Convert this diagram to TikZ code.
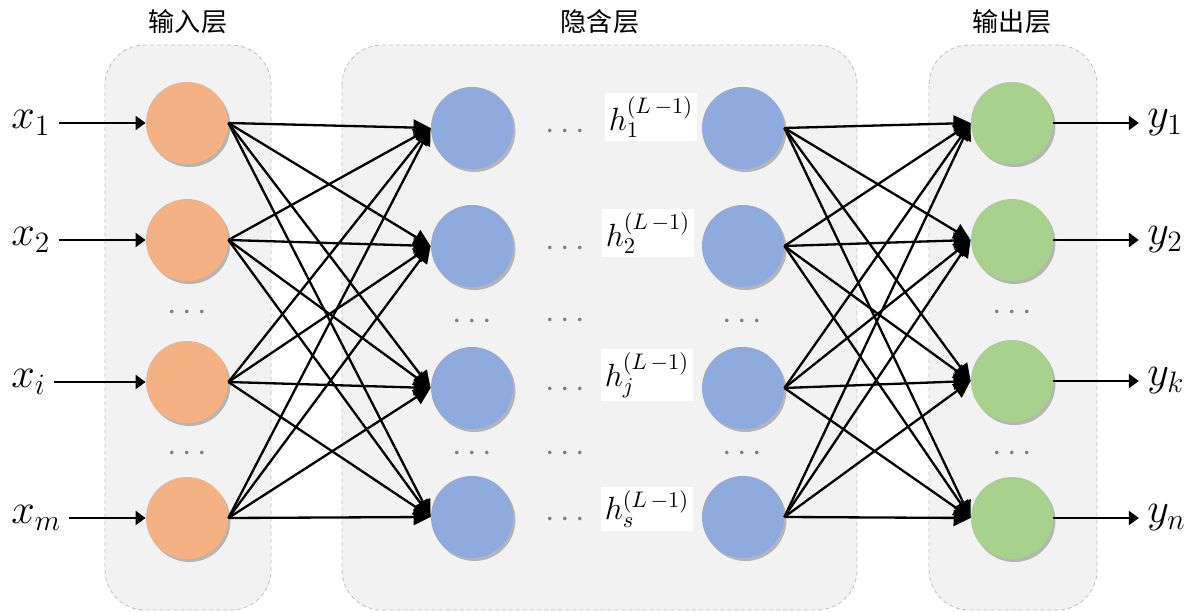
\documentclass[tikz,border=0pt]{standalone}
\usepackage{fix-cm}
\usepackage{fontspec}
\newfontfamily\cjk{Noto Sans CJK SC}
\usetikzlibrary{arrows.meta,shadows}
\definecolor{inOrange}{HTML}{F4B183}
\definecolor{hidBlue}{HTML}{8FAADC}
\definecolor{outGreen}{HTML}{A9D18E}
\definecolor{boxFill}{HTML}{F2F2F2}
\definecolor{boxLine}{HTML}{BFBFBF}
\begin{document}
\begin{tikzpicture}[
    every node/.style={align=center},
    layer box/.style={draw=boxLine, fill=boxFill, line width=0.4pt, dash pattern=on 2pt off 1.5pt, rounded corners=0.7cm},
    neuron/.style={circle, minimum size=1.435cm, inner sep=0pt, drop shadow={shadow xshift=1.2pt, shadow yshift=-1.5pt, fill=black, opacity=0.25}},
    in neuron/.style={neuron, fill=inOrange},
    hid neuron/.style={neuron, fill=hidBlue},
    out neuron/.style={neuron, fill=outGreen},
    layer title/.style={font=\cjk\fontsize{13}{15}\selectfont},
    var label/.style={anchor=west, inner sep=4pt, font=\fontsize{21}{25}\selectfont},
    hid label/.style={fill=white, inner sep=2pt, font=\fontsize{16}{19}\selectfont},
    gray dots/.style={inner sep=0pt, text=black!50, font=\fontsize{17}{20}\selectfont},
    weight arrow/.style={draw, line width=1.15pt, -{Triangle[length=8.5pt,width=8pt]}},
    io arrow/.style={draw, line width=1.15pt, -{Triangle[length=5pt,width=7pt]}},
    ]
\useasboundingbox (0,0) rectangle (20.9125,-10.71);
\fill[white] (0,0) rectangle (20.9125,-10.71);
\path[layer box] (1.838,-0.788) rectangle (4.743,-10.675);
\path[layer box] (5.985,-0.788) rectangle (14.998,-10.675);
\path[layer box] (16.258,-0.788) rectangle (19.198,-10.675);
\node[layer title] (inTitle) at (3.29,-0.385) {输入层};
\node[layer title] (hidTitle) at (10.5,-0.385) {隐含层};
\node[layer title] (outTitle) at (17.71,-0.385) {输出层};
\node[in neuron] (in1) at (3.2725,-2.1525) {};
\node[in neuron] (in2) at (3.2725,-4.200) {};
\node[in neuron] (ini) at (3.2725,-6.685) {};
\node[in neuron] (inm) at (3.2725,-9.065) {};
\node[hid neuron] (hA1) at (8.260,-2.240) {};
\node[hid neuron] (hA2) at (8.260,-4.305) {};
\node[hid neuron] (hAj) at (8.260,-6.790) {};
\node[hid neuron] (hAs) at (8.260,-9.0475) {};
\node[hid neuron] (hB1) at (13.0025,-2.240) {};
\node[hid neuron] (hB2) at (13.0025,-4.305) {};
\node[hid neuron] (hBj) at (13.0025,-6.790) {};
\node[hid neuron] (hBs) at (13.0025,-9.0475) {};
\node[out neuron] (out1) at (17.71,-2.1525) {};
\node[out neuron] (out2) at (17.71,-4.200) {};
\node[out neuron] (outk) at (17.71,-6.6675) {};
\node[out neuron] (outn) at (17.71,-9.065) {};
\node[var label] (x1) at (0.05,-2.1525) {$x_1$};
\node[var label] (x2) at (0.05,-4.200) {$x_2$};
\node[var label] (xi) at (0.05,-6.685) {$x_i$};
\node[var label] (xm) at (0.05,-9.065) {$x_m$};
\node[var label] (y1) at (19.93,-2.1525) {$y_1$};
\node[var label] (y2) at (19.93,-4.200) {$y_2$};
\node[var label] (yk) at (19.93,-6.6675) {$y_k$};
\node[var label] (yn) at (19.93,-9.065) {$y_n$};
\node[hid label] (hl1) at (11.3925,-2.0475) {$h_1^{(L\,-1)}$};
\node[hid label] (hl2) at (11.340,-4.0775) {$h_2^{(L\,-1)}$};
\node[hid label] (hlj) at (11.3225,-6.5625) {$h_j^{(L\,-1)}$};
\node[hid label] (hls) at (11.3225,-8.9075) {$h_s^{(L\,-1)}$};
\node[gray dots] (inDots1) at (3.2725,-5.4775) {$\cdots$};
\node[gray dots] (inDots2) at (3.2725,-7.945) {$\cdots$};
\node[gray dots] (hADots1) at (8.260,-5.635) {$\cdots$};
\node[gray dots] (hADots2) at (8.260,-7.945) {$\cdots$};
\node[gray dots] (midDots1) at (9.8875,-2.310) {$\cdots$};
\node[gray dots] (midDots2) at (9.8875,-4.3575) {$\cdots$};
\node[gray dots] (midDots3) at (9.8875,-5.6175) {$\cdots$};
\node[gray dots] (midDots4) at (9.8875,-6.825) {$\cdots$};
\node[gray dots] (midDots5) at (9.8875,-7.945) {$\cdots$};
\node[gray dots] (midDots6) at (9.8875,-9.100) {$\cdots$};
\node[gray dots] (hBDots1) at (12.985,-5.635) {$\cdots$};
\node[gray dots] (hBDots2) at (12.985,-7.945) {$\cdots$};
\node[gray dots] (outDots1) at (17.71,-5.4775) {$\cdots$};
\node[gray dots] (outDots2) at (17.71,-7.945) {$\cdots$};
\draw[io arrow] (x1) -- (in1);
\draw[io arrow] (x2) -- (in2);
\draw[io arrow] (xi) -- (ini);
\draw[io arrow] (xm) -- (inm);
\draw[weight arrow] (in1.east) -- (hA1.west);
\draw[weight arrow] (in1.east) -- (hA2.west);
\draw[weight arrow] (in1.east) -- (hAj.west);
\draw[weight arrow] (in1.east) -- (hAs.west);
\draw[weight arrow] (in2.east) -- (hA1.west);
\draw[weight arrow] (in2.east) -- (hA2.west);
\draw[weight arrow] (in2.east) -- (hAj.west);
\draw[weight arrow] (in2.east) -- (hAs.west);
\draw[weight arrow] (ini.east) -- (hA1.west);
\draw[weight arrow] (ini.east) -- (hA2.west);
\draw[weight arrow] (ini.east) -- (hAj.west);
\draw[weight arrow] (ini.east) -- (hAs.west);
\draw[weight arrow] (inm.east) -- (hA1.west);
\draw[weight arrow] (inm.east) -- (hA2.west);
\draw[weight arrow] (inm.east) -- (hAj.west);
\draw[weight arrow] (inm.east) -- (hAs.west);
\draw[weight arrow] (hB1.east) -- (out1.west);
\draw[weight arrow] (hB1.east) -- (out2.west);
\draw[weight arrow] (hB1.east) -- (outk.west);
\draw[weight arrow] (hB1.east) -- (outn.west);
\draw[weight arrow] (hB2.east) -- (out1.west);
\draw[weight arrow] (hB2.east) -- (out2.west);
\draw[weight arrow] (hB2.east) -- (outk.west);
\draw[weight arrow] (hB2.east) -- (outn.west);
\draw[weight arrow] (hBj.east) -- (out1.west);
\draw[weight arrow] (hBj.east) -- (out2.west);
\draw[weight arrow] (hBj.east) -- (outk.west);
\draw[weight arrow] (hBj.east) -- (outn.west);
\draw[weight arrow] (hBs.east) -- (out1.west);
\draw[weight arrow] (hBs.east) -- (out2.west);
\draw[weight arrow] (hBs.east) -- (outk.west);
\draw[weight arrow] (hBs.east) -- (outn.west);
\draw[io arrow] (out1) -- (y1);
\draw[io arrow] (out2) -- (y2);
\draw[io arrow] (outk) -- (yk);
\draw[io arrow] (outn) -- (yn);
\end{tikzpicture}
\end{document}
